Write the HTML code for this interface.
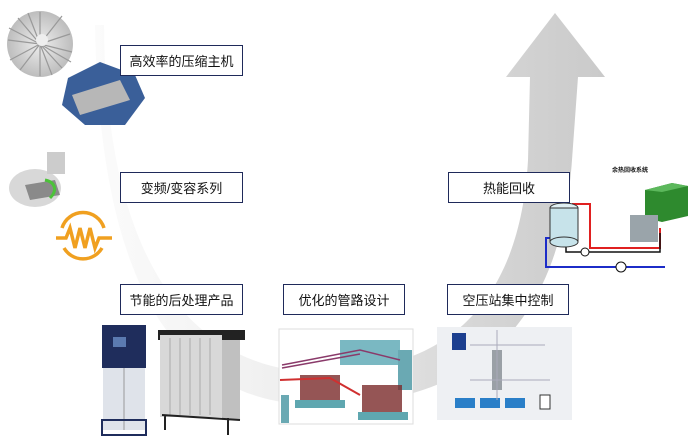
<!DOCTYPE html>
<html><head><meta charset="utf-8"><style>
html,body{margin:0;padding:0;background:#fff;}
#c{position:relative;width:691px;height:440px;overflow:hidden;font-family:"Liberation Sans","Noto Sans CJK SC",sans-serif;}
.b{position:absolute;background:#fff;border:1.3px solid #1f2a5a;box-sizing:border-box;font-size:13px;color:#111;display:flex;align-items:center;justify-content:center;}
svg{position:absolute;left:0;top:0;}
</style></head><body><div id="c">
<svg width="691" height="440" viewBox="0 0 691 440">
<defs>
<linearGradient id="g" x1="0" y1="0" x2="1" y2="0">
<stop offset="0" stop-color="#fbfbfb"/><stop offset="0.35" stop-color="#f0f0f0"/><stop offset="0.75" stop-color="#d6d6d6"/><stop offset="1" stop-color="#cacaca"/></linearGradient>
<radialGradient id="imp"><stop offset="0" stop-color="#eee"/><stop offset="1" stop-color="#bdbdbd"/></radialGradient>
</defs>
<path d="M104,25 C106,300 220,372 320,372 C450,372 520,300 528,160 L530,77 L506,77 L555,13 L605,77 L578,77 L572,160 C560,330 470,405 320,405 C190,405 100,310 95,25 Z" fill="url(#g)"/>
<!-- impeller -->
<circle cx="40" cy="44" r="33" fill="url(#imp)"/>
<g stroke="#999" stroke-width="1.2">
<line x1="40" y1="44" x2="40" y2="12"/><line x1="40" y1="44" x2="70" y2="34"/><line x1="40" y1="44" x2="62" y2="68"/><line x1="40" y1="44" x2="20" y2="70"/><line x1="40" y1="44" x2="8" y2="40"/><line x1="40" y1="44" x2="18" y2="18"/><line x1="40" y1="44" x2="62" y2="16"/><line x1="40" y1="44" x2="72" y2="52"/><line x1="40" y1="44" x2="40" y2="76"/><line x1="40" y1="44" x2="10" y2="60"/><line x1="40" y1="44" x2="28" y2="13"/><line x1="40" y1="44" x2="52" y2="75"/><line x1="40" y1="44" x2="9" y2="28"/><line x1="40" y1="44" x2="71" y2="62"/></g>
<circle cx="42" cy="40" r="6" fill="#eee"/>
<!-- blue compressor -->
<path d="M68,78 L100,62 L135,75 L145,98 L125,125 L85,125 L62,105 Z" fill="#3a5f99"/>
<path d="M72,95 L120,80 L130,100 L80,115Z" fill="#b7b7b7"/>
<!-- middle compressor -->
<ellipse cx="35" cy="188" rx="26" ry="19" fill="#d8d8d8"/>
<rect x="47" y="152" width="18" height="22" fill="#ccc"/>
<path d="M25,185 L55,180 L60,195 L30,200Z" fill="#8a8a8a"/>
<path d="M45,180 C55,182 58,190 50,198" stroke="#4cc23a" stroke-width="3" fill="none"/>
<!-- orange symbol -->
<g stroke="#f0a020" stroke-width="3.5" fill="none"><path d="M62,228 A22,22 0 0,1 104,228"/><path d="M64,248 A22,22 0 0,0 102,248"/>
<path d="M56,238 L66,238 L70,228 L75,248 L80,228 L85,248 L90,228 L95,248 L99,238 L112,238"/></g>
<!-- heat recovery -->
<text x="612" y="172" font-size="6" font-weight="bold" fill="#111">余热回收系统</text>
<path d="M645,190 L672,183 L688,186 L688,216 L662,222 L645,218Z" fill="#2e8a2e"/>
<path d="M645,190 L672,183 L688,186 L662,192Z" fill="#5cb85c"/>
<rect x="630" y="215" width="28" height="27" fill="#9aa4aa"/>
<path d="M572,204 L590,204 L590,248 L660,248 L660,228" stroke="#e02020" stroke-width="2" fill="none"/>
<path d="M566,240 L566,252 L650,252 L660,252 L660,233" stroke="#111" stroke-width="1.5" fill="none"/>
<path d="M552,238 L546,238 L546,267 L665,267" stroke="#1c2cc8" stroke-width="2" fill="none"/>
<ellipse cx="564" cy="208" rx="14" ry="5" fill="#dfeff3" stroke="#333"/>
<rect x="550" y="208" width="28" height="34" fill="#c7e3ea" stroke="#333"/>
<ellipse cx="564" cy="242" rx="14" ry="5" fill="#c7e3ea" stroke="#333"/>
<circle cx="585" cy="252" r="4" fill="#fff" stroke="#111"/><circle cx="621" cy="267" r="5" fill="#fff" stroke="#111"/>
<!-- dryers -->
<rect x="102" y="325" width="44" height="43" fill="#1f2d5c"/>
<rect x="113" y="337" width="13" height="10" fill="#5b7ab0"/>
<rect x="103" y="368" width="42" height="62" fill="#dfe3ea"/>
<line x1="124" y1="368" x2="124" y2="430" stroke="#999"/>
<rect x="102" y="420" width="44" height="15" fill="none" stroke="#1f2d5c" stroke-width="2"/>
<rect x="158" y="330" width="87" height="10" fill="#222"/>
<rect x="160" y="335" width="62" height="82" fill="#d8d8d8"/>
<rect x="222" y="340" width="18" height="80" fill="#c0c0c0"/>
<g stroke="#aaa"><line x1="170" y1="338" x2="170" y2="415"/><line x1="180" y1="338" x2="180" y2="415"/><line x1="190" y1="338" x2="190" y2="415"/><line x1="200" y1="338" x2="200" y2="415"/><line x1="210" y1="338" x2="210" y2="415"/></g>
<path d="M162,415 L240,420 M165,415 L165,430 M228,418 L228,435" stroke="#222" stroke-width="2"/>
<!-- piping -->
<rect x="279" y="329" width="134" height="95" fill="#fff" stroke="#ddd"/>
<rect x="340" y="340" width="60" height="25" fill="#7ab8c2"/>
<rect x="398" y="350" width="14" height="40" fill="#6aa9b3"/>
<rect x="300" y="375" width="40" height="30" fill="#7a2a2a" opacity="0.8"/>
<rect x="362" y="385" width="40" height="30" fill="#7a2a2a" opacity="0.8"/>
<rect x="295" y="400" width="50" height="8" fill="#5fa7b0"/><rect x="358" y="412" width="50" height="8" fill="#5fa7b0"/>
<path d="M282,365 L360,350 L400,360 M282,368 L360,354" stroke="#8a3a6a" stroke-width="1.5" fill="none"/>
<path d="M280,380 L330,378 L360,395" stroke="#d03030" stroke-width="2" fill="none"/>
<rect x="281" y="395" width="8" height="28" fill="#6aa9b3"/>
<!-- control -->
<rect x="437" y="327" width="135" height="93" fill="#eef0f3"/>
<rect x="452" y="333" width="14" height="17" fill="#1c3f8f"/>
<rect x="492" y="350" width="10" height="40" fill="#9aa0a6"/>
<g fill="#2a7fc8"><rect x="455" y="398" width="20" height="10"/><rect x="480" y="398" width="20" height="10"/><rect x="505" y="398" width="20" height="10"/></g>
<rect x="540" y="395" width="10" height="14" fill="#fff" stroke="#333"/>
<g stroke="#aab" fill="none"><path d="M470,345 H545 M470,380 H550 M497,330 V400"/></g>
</svg>
<div class="b" style="left:120px;top:45px;width:123px;height:31px;">高效率的压缩主机</div>
<div class="b" style="left:120px;top:172px;width:123px;height:31px;">变频/变容系列</div>
<div class="b" style="left:448px;top:172px;width:122px;height:31px;">热能回收</div>
<div class="b" style="left:120px;top:284px;width:123px;height:31px;">节能的后处理产品</div>
<div class="b" style="left:283px;top:284px;width:122px;height:31px;">优化的管路设计</div>
<div class="b" style="left:447px;top:284px;width:122px;height:31px;">空压站集中控制</div>
</div></body></html>
